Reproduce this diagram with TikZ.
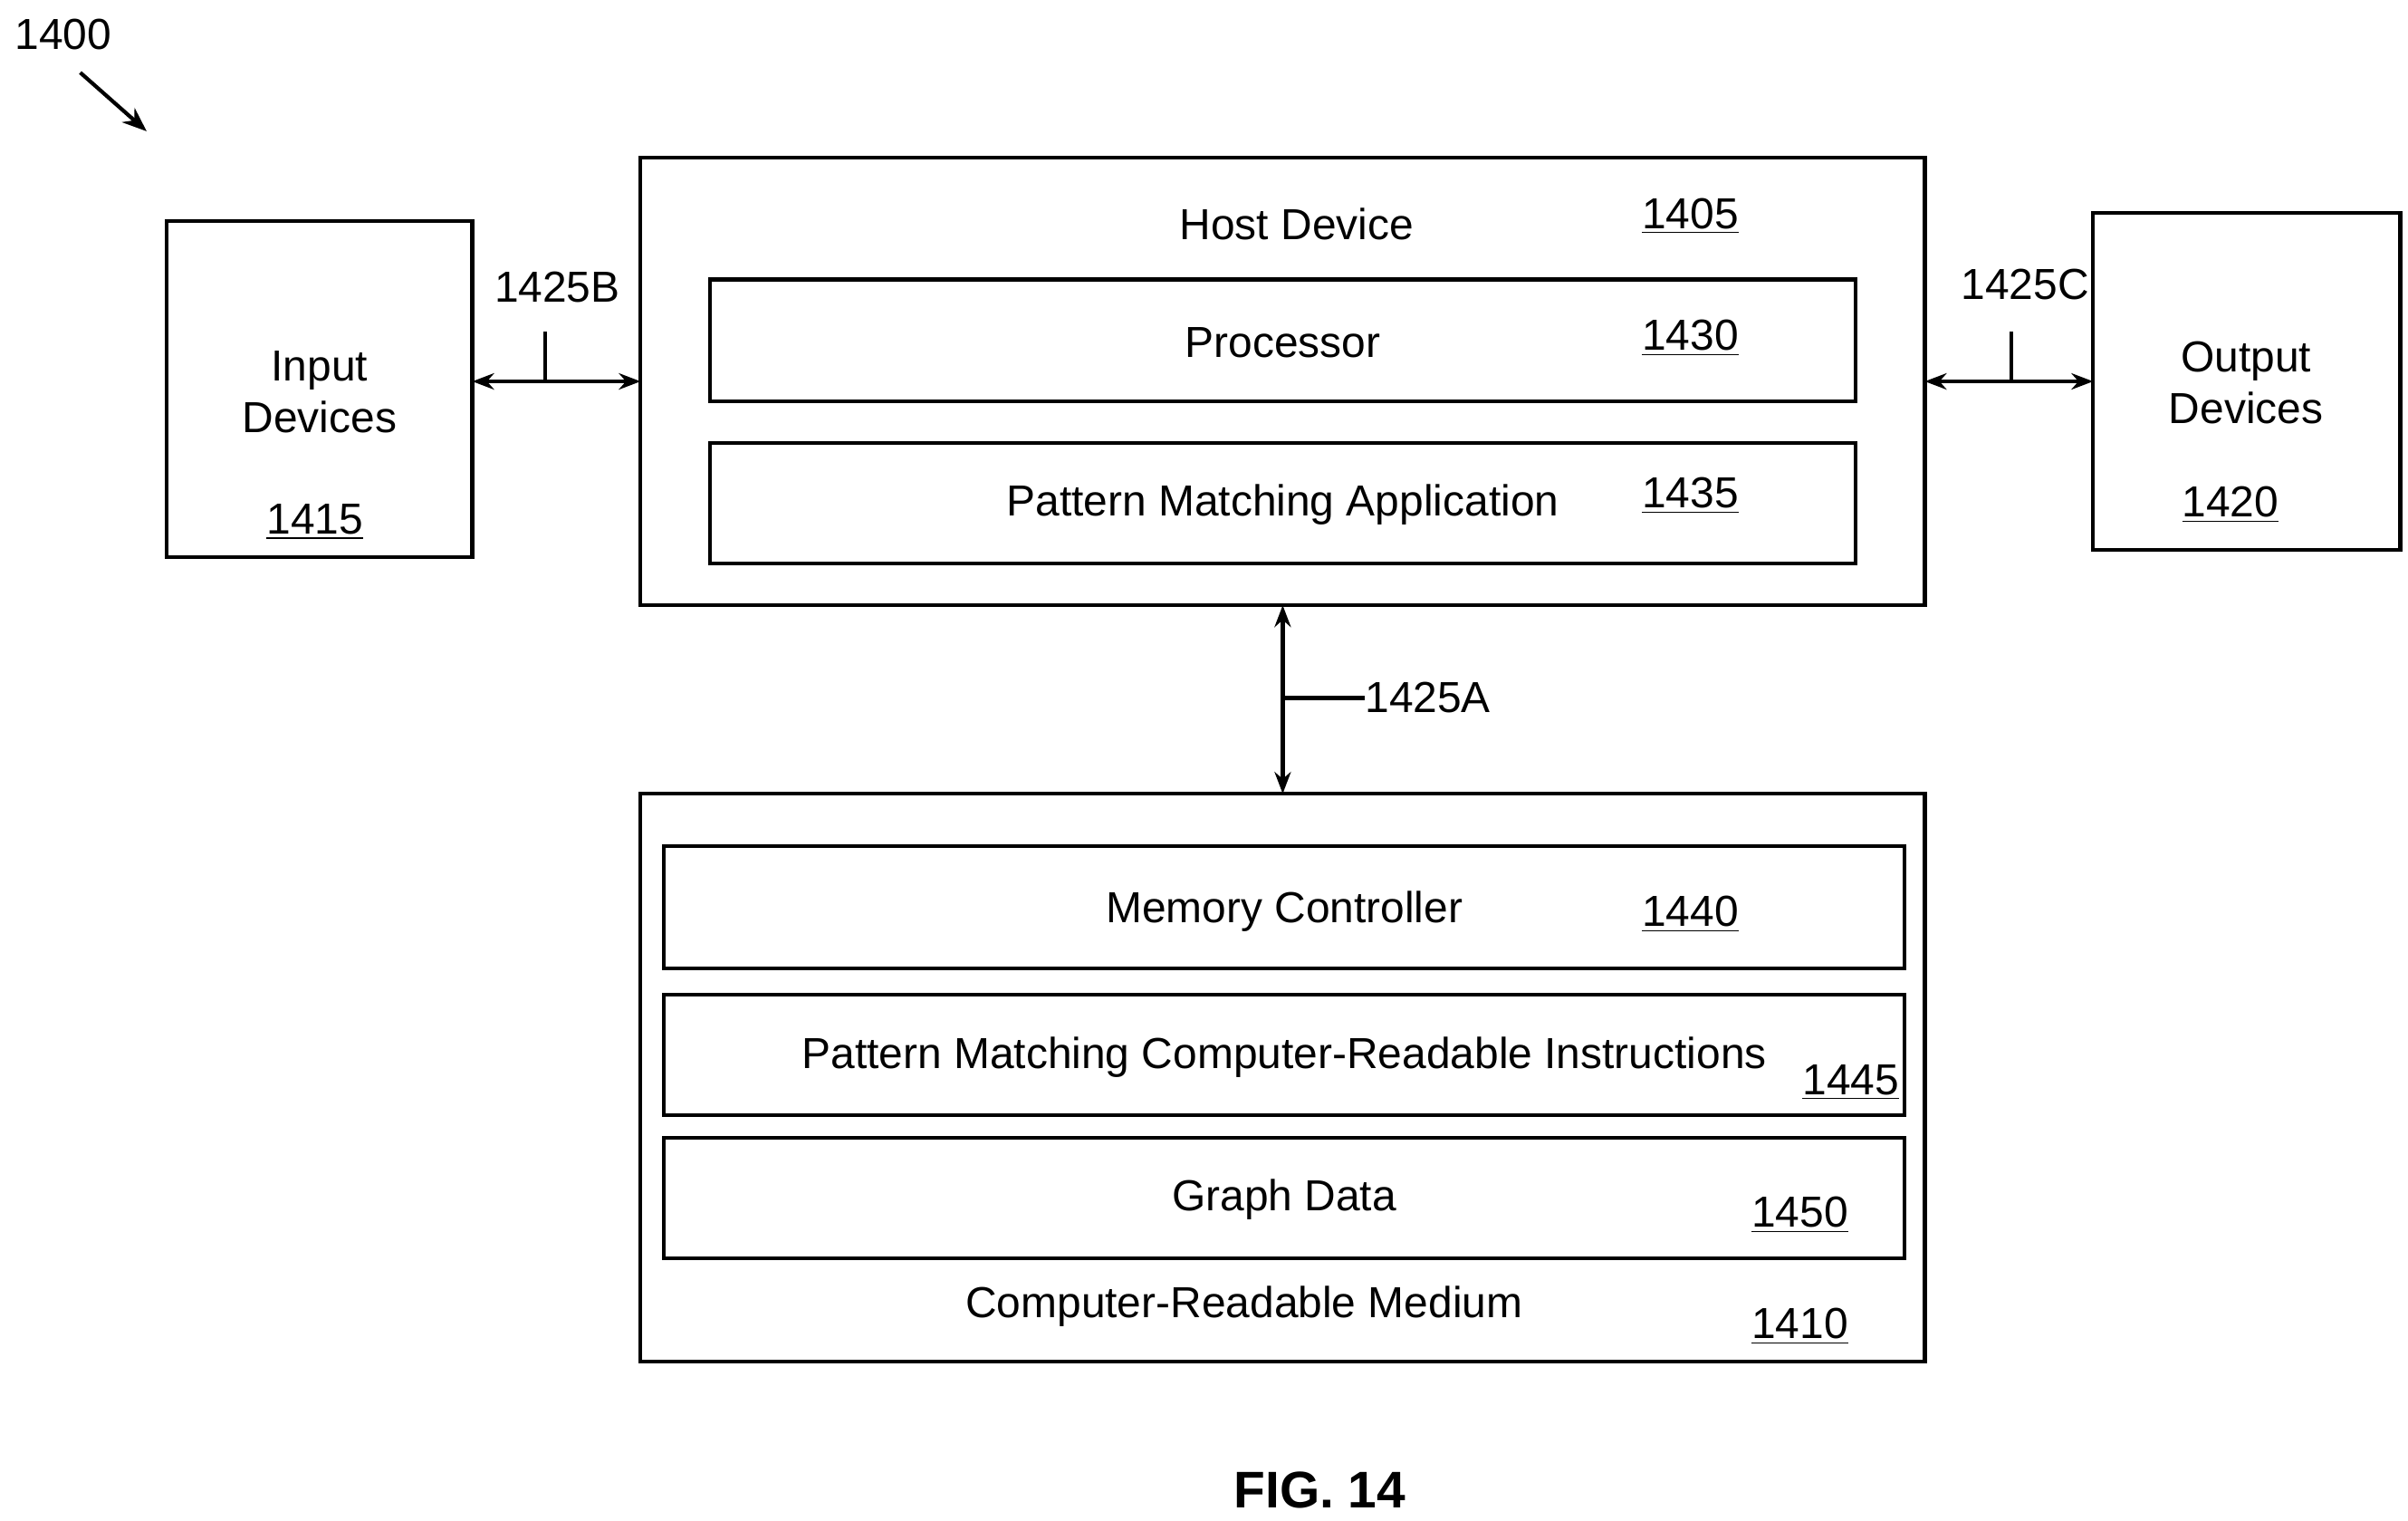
\documentclass[tikz,border=0pt]{standalone}
\usepackage{fontspec}
\setmainfont{Liberation Sans}
\usetikzlibrary{arrows.meta}
\begin{document}
\begin{tikzpicture}[x=0.02cm,y=-0.02cm,
  box/.style={draw,line width=1.4pt},
  lbl/.style={font=\fontsize{16}{19}\selectfont,inner sep=0pt},
  num/.style={lbl},
  conn/.style={line width=1.4pt,{Stealth[length=8pt,width=6pt]}-{Stealth[length=8pt,width=6pt]}},
  tick/.style={line width=1.4pt}]
\useasboundingbox (0,0) rectangle (1560,985);
\draw[box] (108,143) rectangle (306,361) coordinate (inE);
\node[box,minimum width=0,draw=none] (in) at (207,252) {};
\coordinate (inR) at (306,247);
\node[lbl,align=center] (intxt) at (207,254) {Input\\Devices};
\node[num] (n1415) at (204,338) {\underline{1415}};
\draw[box] (415,102) rectangle (1247,392);
\coordinate (hostL) at (415,247); \coordinate (hostR) at (1247,247);
\coordinate (hostB) at (831,392);
\node[lbl] (host) at (840,145) {Host Device};
\node[num] (n1405) at (1095,140) {\underline{1405}};
\draw[box] (460,181) rectangle (1202,260);
\node[lbl] (proc) at (831,222) {Processor};
\node[num] (n1430) at (1095,219) {\underline{1430}};
\draw[box] (460,287) rectangle (1202,365);
\node[lbl] (pma) at (831,327) {Pattern Matching Application};
\node[num] (n1435) at (1095,321) {\underline{1435}};
\draw[box] (1356,138) rectangle (1555,356);
\coordinate (outL) at (1356,247);
\node[lbl,align=center] (outtxt) at (1455,248) {Output\\Devices};
\node[num] (n1420) at (1445,327) {\underline{1420}};
\draw[box] (415,514) rectangle (1247,882);
\coordinate (crmT) at (831,514);
\draw[box] (430,548) rectangle (1234,627);
\node[lbl] (mc) at (832,590) {Memory Controller};
\node[num] (n1440) at (1095,592) {\underline{1440}};
\draw[box] (430,644) rectangle (1234,722);
\node[lbl] (pmc) at (832,685) {Pattern Matching Computer-Readable Instructions};
\node[num] (n1445) at (1199,701) {\underline{1445}};
\draw[box] (430,737) rectangle (1234,815);
\node[lbl] (gd) at (832,777) {Graph Data};
\node[num] (n1450) at (1166,787) {\underline{1450}};
\node[lbl] (crm) at (806,846) {Computer-Readable Medium};
\node[num] (n1410) at (1166,859) {\underline{1410}};
\draw[conn] (inR) -- (hostL);
\coordinate (tb) at (353,247); \coordinate (tbt) at (353,215);
\draw[tick] (tb) -- (tbt);
\node[lbl] (l1425B) at (361,186) {1425B};
\draw[conn] (hostR) -- (outL);
\coordinate (tc) at (1303,247); \coordinate (tct) at (1303,215);
\draw[tick] (tc) -- (tct);
\node[lbl] (l1425C) at (1312,184) {1425C};
\draw[conn] (hostB) -- (crmT);
\coordinate (ta) at (831,452);
\node[lbl,anchor=west] (l1425A) at (884,452) {1425A};
\draw[tick] (ta) -- (l1425A.west);
\node[lbl] (l1400) at (41,22) {1400};
\coordinate (a1) at (52,47); \coordinate (a2) at (95,85);
\draw[line width=1.4pt,-{Stealth[length=9pt,width=7pt]}] (a1) -- (a2);
\node[lbl,font=\fontsize{19}{22}\selectfont\bfseries] (fig) at (855,965) {FIG. 14};
\end{tikzpicture}
\end{document}
